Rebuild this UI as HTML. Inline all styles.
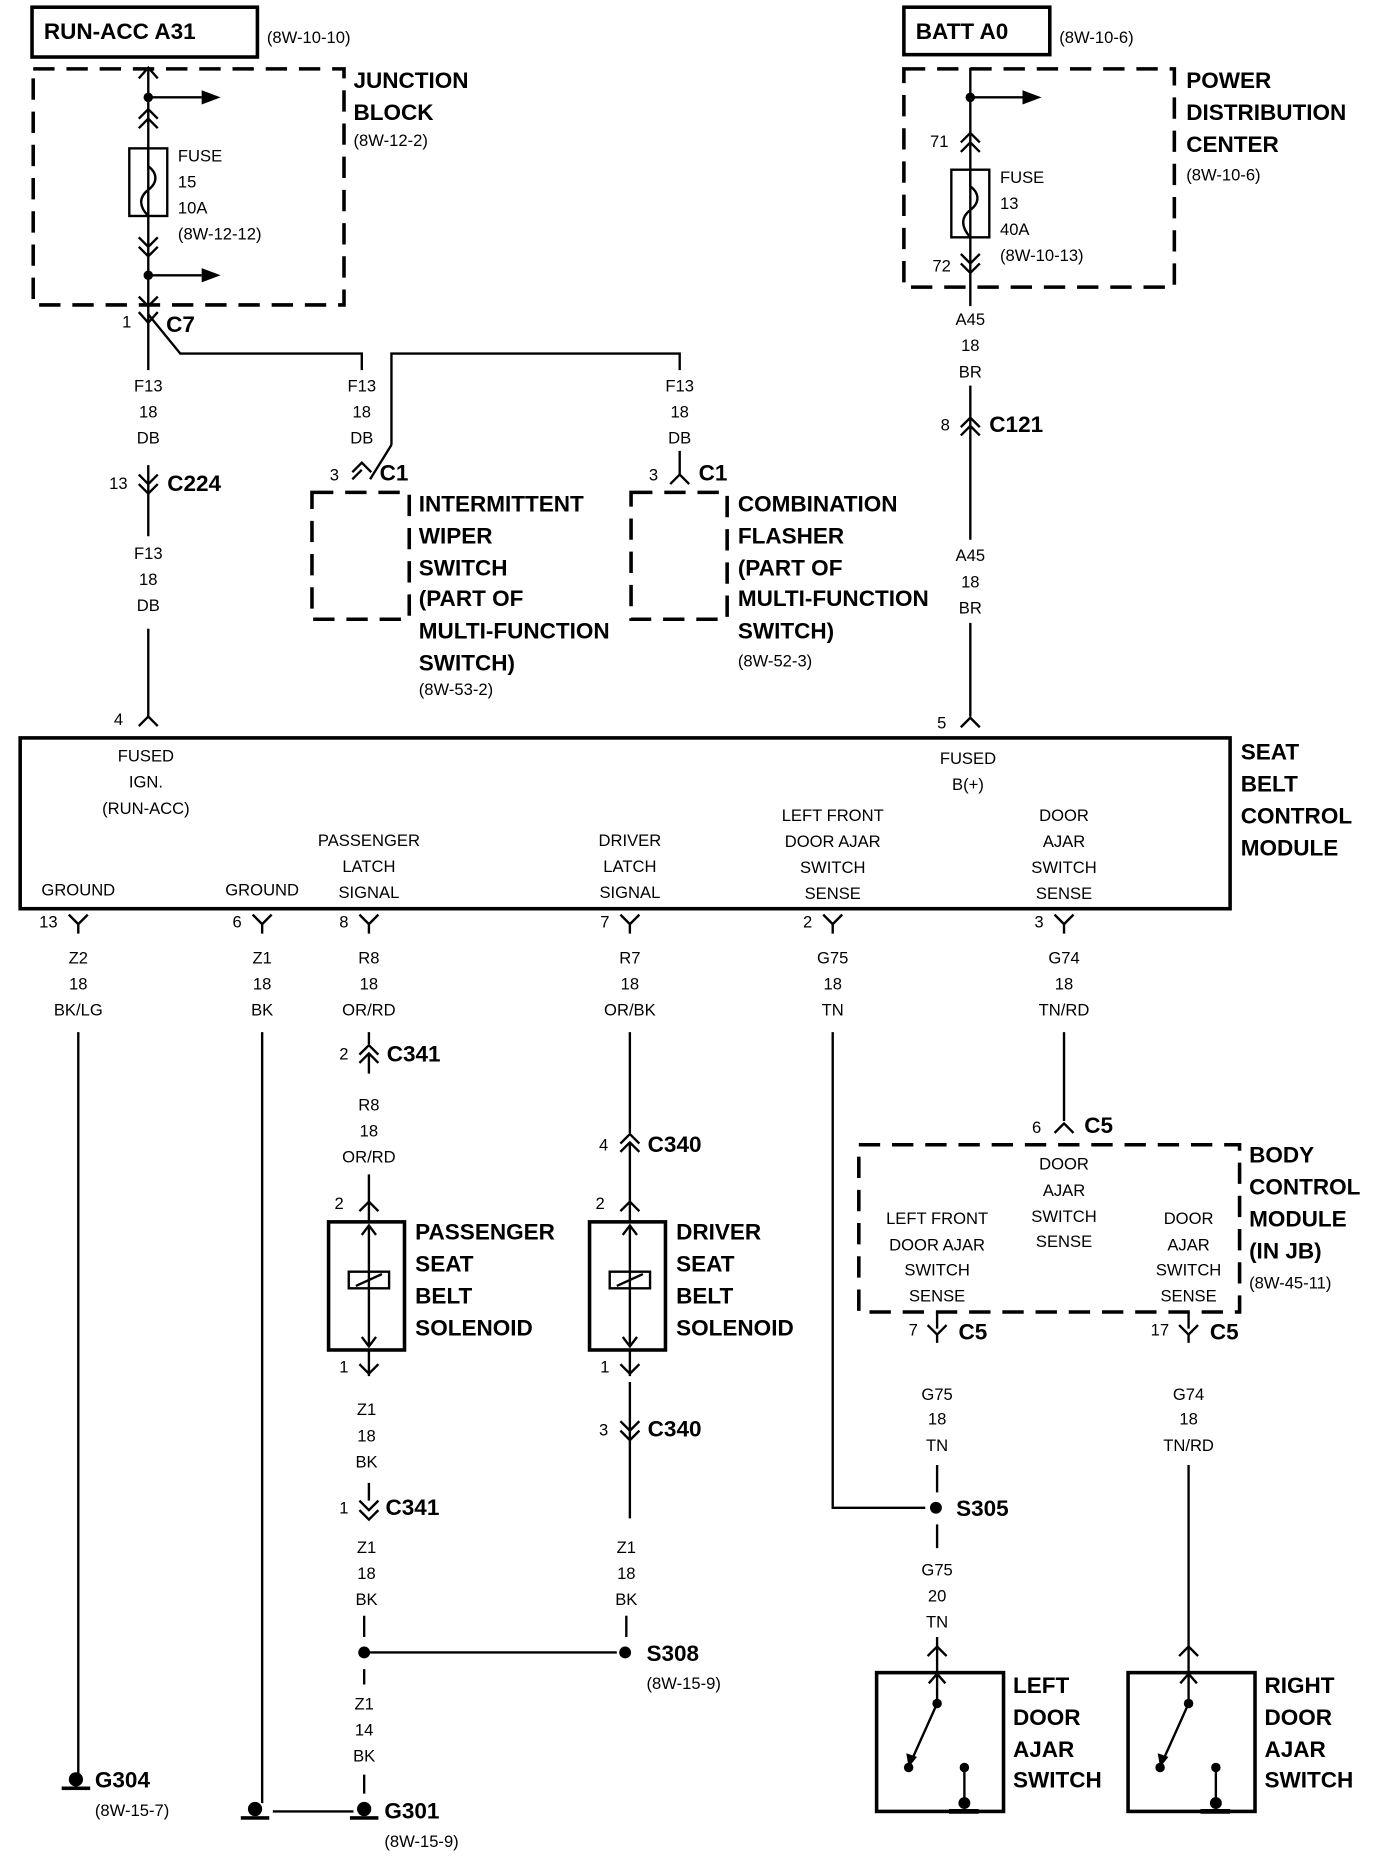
<!DOCTYPE html>
<html><head><meta charset="utf-8"><style>
html,body{margin:0;padding:0;background:#fff;}
svg{display:block}
text{font-family:"Liberation Sans",sans-serif;fill:#000}
.s{font-size:14px}
.b{font-size:19px;font-weight:bold}
.m{font-size:14px;text-anchor:middle}
</style></head><body>
<svg width="1376" height="1872" viewBox="0 0 1160 1578" xmlns="http://www.w3.org/2000/svg">
<rect width="1160" height="1578" fill="#fff"/>
<g stroke="#000" fill="none" stroke-width="2">
<rect x="27" y="6" width="190" height="42" stroke-width="3"/>
<rect x="762" y="6" width="123" height="40" stroke-width="3"/>
<rect x="28" y="58" width="262" height="199" stroke-width="3" stroke-dasharray="18,10"/>
<rect x="762" y="58" width="228" height="184" stroke-width="3" stroke-dasharray="18,10"/>
<rect x="263" y="415" width="82" height="107" stroke-width="3" stroke-dasharray="18,10"/>
<rect x="532" y="415" width="81" height="107" stroke-width="3" stroke-dasharray="18,10"/>
<rect x="724" y="965" width="321" height="141" stroke-width="3" stroke-dasharray="18,10"/>
<rect x="17" y="622" width="1020" height="144" stroke-width="3"/>
<path d="M125 57V312M125 392V452M125 530V604"/>
<path d="M125 82H170M125 232H170"/>
<path d="M117 66L125 57L133 66M117 100L125 92L133 100M117 108L125 100L133 108"/>
<rect x="109" y="125" width="32" height="57"/>
<path d="M125 125v15c8 6 8 14 0 20s-8 14 0 22"/>
<path d="M117 200L125 208L133 200M117 208L125 216L133 208M117 250L125 258L133 250"/>
<path d="M117 263L125 272L133 263"/>
<path d="M125 265L152 298H305V312"/>
<path d="M117 400L125 408L133 400M117 408L125 416L133 408"/>
<path d="M117 612L125 604L133 612"/>
<path d="M330 375V298H573V312"/>
<path d="M330 375L312 404"/>
<path d="M297 398L305 390L313 398M297 404L305 396"/>
<path d="M565 408L573 400L581 408M573 380V400"/>
<path d="M818 57V258M818 325V455M818 525V604M818 82H862"/>
<path d="M810 120L818 112L826 120M810 128L818 120L826 128"/>
<rect x="802" y="143" width="32" height="57"/>
<path d="M818 143v14c8 6 8 14 0 20s-8 14 0 23"/>
<path d="M810 214L818 222L826 214M810 222L818 230L826 222"/>
<path d="M810 360L818 352L826 360M810 367L818 359L826 367"/>
<path d="M810 613L818 605L826 613"/>
<path d="M58 771L66 779L74 771M66 779V787"/>
<path d="M213 771L221 779L229 771M221 779V787"/>
<path d="M303 771L311 779L319 771M311 779V787"/>
<path d="M523 771L531 779L539 771M531 779V787"/>
<path d="M694 771L702 779L710 771M702 779V787"/>
<path d="M889 771L897 779L905 771M897 779V787"/>
<path d="M66 870V1495M221 870V1520M230 1527H298"/>
<path d="M311 870V880M303 889L311 881L319 889M303 896L311 888L319 896M311 888V905"/>
<path d="M311 990V1030M303 1021L311 1013L319 1021"/>
<rect x="277" y="1030" width="64" height="108" stroke-width="3"/>
<path d="M311 1033V1135M305 1041L311 1033L317 1041M305 1127L311 1135L317 1127"/>
<rect x="294" y="1072" width="34" height="14"/>
<path d="M300 1084L322 1074"/>
<path d="M311 1138V1160M303 1150L311 1158L319 1150"/>
<path d="M311 1250V1265M303 1265L311 1273L319 1265M303 1273L311 1281L319 1273"/>
<path d="M307 1362V1380M307 1407V1420M307 1496V1512M307 1393H520"/>
<path d="M531 870V955M523 964L531 956L539 964M523 971L531 963L539 971M531 963V1030M523 1021L531 1013L539 1021"/>
<rect x="497" y="1030" width="64" height="108" stroke-width="3"/>
<path d="M531 1033V1135M525 1041L531 1033L537 1041M525 1127L531 1135L537 1127"/>
<rect x="514" y="1072" width="34" height="14"/>
<path d="M520 1084L542 1074"/>
<path d="M531 1138V1160M523 1150L531 1158L539 1150"/>
<path d="M531 1165V1280M523 1198L531 1206L539 1198M523 1206L531 1214L539 1206"/>
<path d="M528 1362V1380"/>
<path d="M702 870V1271H780"/>
<path d="M897 870V945M889 955L897 947L905 955"/>
<path d="M790 1106V1120M782 1117L790 1125L798 1117M790 1125V1132"/>
<path d="M1002 1106V1120M994 1117L1002 1125L1010 1117M1002 1125V1132"/>
<path d="M790 1235V1258M790 1285V1305M790 1380V1436M782 1396L790 1388L798 1396M783 1419L790 1411L797 1419"/>
<path d="M1002 1235V1436M994 1396L1002 1388L1010 1396M995 1419L1002 1411L1009 1419"/>
<rect x="739" y="1410" width="107" height="117" stroke-width="3"/>
<rect x="951" y="1410" width="107" height="117" stroke-width="3"/>
<path d="M790 1436L768 1485M813 1490V1520M1002 1436L980 1485M1025 1490V1520"/>
<path d="M800 1527H825M1012 1527H1037" stroke-width="4"/>
</g>
<g fill="#000">
<circle cx="125" cy="82" r="4"/><circle cx="125" cy="232" r="4"/>
<path d="M170 76L186 82L170 88Z"/><path d="M170 226L186 232L170 238Z"/>
<circle cx="818" cy="82" r="4"/><path d="M862 76L878 82L862 88Z"/>
<circle cx="307" cy="1393" r="5"/><circle cx="527" cy="1393" r="5"/><circle cx="789" cy="1271" r="5"/>
<circle cx="790" cy="1436" r="4"/><circle cx="766" cy="1490" r="4"/><circle cx="813" cy="1490" r="4"/><circle cx="813" cy="1520" r="5"/>
<circle cx="1002" cy="1436" r="4"/><circle cx="978" cy="1490" r="4"/><circle cx="1025" cy="1490" r="4"/><circle cx="1025" cy="1520" r="5"/>
<path d="M764 1478L766 1490L773 1481Z"/><path d="M976 1478L978 1490L985 1481Z"/>
<circle cx="64" cy="1500" r="6"/><rect x="52" y="1506" width="24" height="3"/>
<circle cx="215" cy="1525" r="6"/><rect x="203" y="1531" width="24" height="3"/>
<circle cx="307" cy="1525" r="6"/><rect x="295" y="1531" width="24" height="3"/>
</g>
<text class="b" x="37" y="33">RUN-ACC A31</text>
<text class="s" x="225" y="36">(8W-10-10)</text>
<text class="b" x="772" y="33">BATT A0</text>
<text class="s" x="893" y="36">(8W-10-6)</text>
<text class="b" x="298" y="74">JUNCTION</text><text class="b" x="298" y="101">BLOCK</text><text class="s" x="298" y="123">(8W-12-2)</text>
<text class="s" x="150" y="136">FUSE</text><text class="s" x="150" y="158">15</text><text class="s" x="150" y="180">10A</text><text class="s" x="150" y="202">(8W-12-12)</text>
<text class="b" x="1000" y="74">POWER</text><text class="b" x="1000" y="101">DISTRIBUTION</text><text class="b" x="1000" y="128">CENTER</text><text class="s" x="1000" y="152">(8W-10-6)</text>
<text class="s" x="843" y="154">FUSE</text><text class="s" x="843" y="176">13</text><text class="s" x="843" y="198">40A</text><text class="s" x="843" y="220">(8W-10-13)</text>
<text class="s" x="784" y="124">71</text><text class="s" x="786" y="229">72</text>
<text class="s" x="103" y="276">1</text><text class="b" x="140" y="280">C7</text>
<g class="m">
<text x="125" y="330">F13</text><text x="125" y="352">18</text><text x="125" y="374">DB</text>
<text x="305" y="330">F13</text><text x="305" y="352">18</text><text x="305" y="374">DB</text>
<text x="573" y="330">F13</text><text x="573" y="352">18</text><text x="573" y="374">DB</text>
<text x="125" y="471">F13</text><text x="125" y="493">18</text><text x="125" y="515">DB</text>
<text x="818" y="274">A45</text><text x="818" y="296">18</text><text x="818" y="318">BR</text>
<text x="818" y="473">A45</text><text x="818" y="495">18</text><text x="818" y="517">BR</text>
<text x="123" y="642">FUSED</text><text x="123" y="664">IGN.</text><text x="123" y="686">(RUN-ACC)</text>
<text x="816" y="644">FUSED</text><text x="816" y="666">B(+)</text>
<text x="66" y="755">GROUND</text><text x="221" y="755">GROUND</text>
<text x="311" y="713">PASSENGER</text><text x="311" y="735">LATCH</text><text x="311" y="757">SIGNAL</text>
<text x="531" y="713">DRIVER</text><text x="531" y="735">LATCH</text><text x="531" y="757">SIGNAL</text>
<text x="702" y="692">LEFT FRONT</text><text x="702" y="714">DOOR AJAR</text><text x="702" y="736">SWITCH</text><text x="702" y="758">SENSE</text>
<text x="897" y="692">DOOR</text><text x="897" y="714">AJAR</text><text x="897" y="736">SWITCH</text><text x="897" y="758">SENSE</text>
<text x="66" y="812">Z2</text><text x="66" y="834">18</text><text x="66" y="856">BK/LG</text>
<text x="221" y="812">Z1</text><text x="221" y="834">18</text><text x="221" y="856">BK</text>
<text x="311" y="812">R8</text><text x="311" y="834">18</text><text x="311" y="856">OR/RD</text>
<text x="531" y="812">R7</text><text x="531" y="834">18</text><text x="531" y="856">OR/BK</text>
<text x="702" y="812">G75</text><text x="702" y="834">18</text><text x="702" y="856">TN</text>
<text x="897" y="812">G74</text><text x="897" y="834">18</text><text x="897" y="856">TN/RD</text>
<text x="311" y="936">R8</text><text x="311" y="958">18</text><text x="311" y="980">OR/RD</text>
<text x="309" y="1193">Z1</text><text x="309" y="1215">18</text><text x="309" y="1237">BK</text>
<text x="309" y="1309">Z1</text><text x="309" y="1331">18</text><text x="309" y="1353">BK</text>
<text x="307" y="1441">Z1</text><text x="307" y="1463">14</text><text x="307" y="1485">BK</text>
<text x="528" y="1309">Z1</text><text x="528" y="1331">18</text><text x="528" y="1353">BK</text>
<text x="897" y="986">DOOR</text><text x="897" y="1008">AJAR</text><text x="897" y="1030">SWITCH</text><text x="897" y="1051">SENSE</text>
<text x="790" y="1032">LEFT FRONT</text><text x="790" y="1054">DOOR AJAR</text><text x="790" y="1075">SWITCH</text><text x="790" y="1097">SENSE</text>
<text x="1002" y="1032">DOOR</text><text x="1002" y="1054">AJAR</text><text x="1002" y="1075">SWITCH</text><text x="1002" y="1097">SENSE</text>
<text x="790" y="1180">G75</text><text x="790" y="1201">18</text><text x="790" y="1223">TN</text>
<text x="1002" y="1180">G74</text><text x="1002" y="1201">18</text><text x="1002" y="1223">TN/RD</text>
<text x="790" y="1328">G75</text><text x="790" y="1350">20</text><text x="790" y="1372">TN</text>
</g>
<text class="s" x="92" y="412">13</text><text class="b" x="141" y="414">C224</text>
<text class="s" x="278" y="405">3</text><text class="b" x="320" y="405">C1</text>
<text class="s" x="547" y="405">3</text><text class="b" x="589" y="405">C1</text>
<text class="b" x="353" y="431">INTERMITTENT</text><text class="b" x="353" y="458">WIPER</text><text class="b" x="353" y="485">SWITCH</text><text class="b" x="353" y="511">(PART OF</text><text class="b" x="353" y="538">MULTI-FUNCTION</text><text class="b" x="353" y="565">SWITCH)</text><text class="s" x="353" y="586">(8W-53-2)</text>
<text class="b" x="622" y="431">COMBINATION</text><text class="b" x="622" y="458">FLASHER</text><text class="b" x="622" y="485">(PART OF</text><text class="b" x="622" y="511">MULTI-FUNCTION</text><text class="b" x="622" y="538">SWITCH)</text><text class="s" x="622" y="562">(8W-52-3)</text>
<text class="s" x="793" y="363">8</text><text class="b" x="834" y="364">C121</text>
<text class="s" x="96" y="611">4</text><text class="s" x="790" y="614">5</text>
<text class="b" x="1046" y="640">SEAT</text><text class="b" x="1046" y="667">BELT</text><text class="b" x="1046" y="694">CONTROL</text><text class="b" x="1046" y="721">MODULE</text>
<text class="s" x="33" y="782">13</text><text class="s" x="196" y="782">6</text><text class="s" x="286" y="782">8</text><text class="s" x="506" y="782">7</text><text class="s" x="677" y="782">2</text><text class="s" x="872" y="782">3</text>
<text class="s" x="286" y="893">2</text><text class="b" x="326" y="895">C341</text>
<text class="s" x="282" y="1019">2</text><text class="s" x="502" y="1019">2</text>
<text class="b" x="350" y="1045">PASSENGER</text><text class="b" x="350" y="1072">SEAT</text><text class="b" x="350" y="1099">BELT</text><text class="b" x="350" y="1126">SOLENOID</text>
<text class="b" x="570" y="1045">DRIVER</text><text class="b" x="570" y="1072">SEAT</text><text class="b" x="570" y="1099">BELT</text><text class="b" x="570" y="1126">SOLENOID</text>
<text class="s" x="286" y="1157">1</text><text class="s" x="506" y="1157">1</text>
<text class="s" x="505" y="970">4</text><text class="b" x="546" y="971">C340</text>
<text class="s" x="505" y="1210">3</text><text class="b" x="546" y="1211">C340</text>
<text class="s" x="286" y="1276">1</text><text class="b" x="325" y="1277">C341</text>
<text class="b" x="545" y="1400">S308</text><text class="s" x="545" y="1424">(8W-15-9)</text>
<text class="b" x="806" y="1278">S305</text>
<text class="s" x="870" y="955">6</text><text class="b" x="914" y="955">C5</text>
<text class="b" x="1053" y="980">BODY</text><text class="b" x="1053" y="1007">CONTROL</text><text class="b" x="1053" y="1034">MODULE</text><text class="b" x="1053" y="1061">(IN JB)</text><text class="s" x="1053" y="1086">(8W-45-11)</text>
<text class="s" x="766" y="1126">7</text><text class="b" x="808" y="1129">C5</text>
<text class="s" x="970" y="1126">17</text><text class="b" x="1020" y="1129">C5</text>
<text class="b" x="854" y="1427">LEFT</text><text class="b" x="854" y="1454">DOOR</text><text class="b" x="854" y="1481">AJAR</text><text class="b" x="854" y="1507">SWITCH</text>
<text class="b" x="1066" y="1427">RIGHT</text><text class="b" x="1066" y="1454">DOOR</text><text class="b" x="1066" y="1481">AJAR</text><text class="b" x="1066" y="1507">SWITCH</text>
<text class="b" x="80" y="1507">G304</text><text class="s" x="80" y="1531">(8W-15-7)</text>
<text class="b" x="324" y="1533">G301</text><text class="s" x="324" y="1557">(8W-15-9)</text>
</svg>
</body></html>
